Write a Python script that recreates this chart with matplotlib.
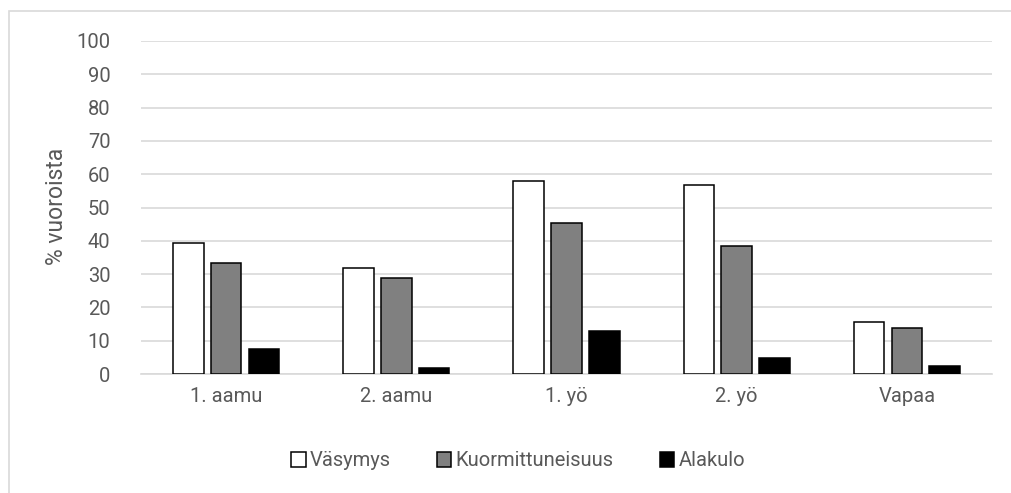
import numpy as np
import matplotlib
matplotlib.use('Agg')
import matplotlib.pyplot as plt
from matplotlib.patches import Rectangle

# 數據
categories = ['1. aamu', '2. aamu', '1. yö', '2. yö', 'Vapaa']
vasymys = [39.2, 31.7, 58.0, 56.9, 15.5]
kuormittuneisuus = [33.2, 28.9, 45.2, 38.4, 13.7]
alakulo = [7.4, 1.7, 13.0, 4.8, 2.4]
series_names = ['Väsymys', 'Kuormittuneisuus', 'Alakulo']
yticks = list(range(0, 101, 10))

plt.rcParams['font.family'] = ['Roboto', 'DejaVu Sans']
text_color = '#595959'

fig = plt.figure(figsize=(10.12, 4.93), dpi=100)
ax = fig.add_axes([141 / 1012, 1 - 374 / 493, 851 / 1012, 333 / 493])

# 外框（只有左邊和上邊可見）
fig.patches.append(Rectangle((8.5 / 1012, -0.1), 1.2, 1.1 - 11.5 / 493,
                             transform=fig.transFigure, fill=False,
                             edgecolor='#d9d9d9', linewidth=1.2, zorder=0))

x = np.arange(len(categories))
pitch = 0.222
width = 0.18
colors = ['white', '#808080', 'black']
for i, (vals, name, c) in enumerate(zip([vasymys, kuormittuneisuus, alakulo], series_names, colors)):
    ax.bar(x + (i - 1) * pitch, vals, width, color=c, edgecolor='black',
           linewidth=1.1, label=name, zorder=3)

ax.set_xlim(-0.5, len(categories) - 0.5)
ax.set_ylim(0, 100)
ax.set_yticks(yticks)
ax.set_xticks(x)
ax.set_xticklabels(categories)
ax.yaxis.grid(True, color='#d9d9d9', linewidth=1.2, zorder=0)
ax.set_axisbelow(True)
for s in ['top', 'right', 'left']:
    ax.spines[s].set_visible(False)
ax.spines['bottom'].set_color('#d9d9d9')
ax.spines['bottom'].set_linewidth(1.2)
ax.tick_params(axis='both', length=0, labelsize=14.5, colors=text_color)
ax.tick_params(axis='y', pad=22)
ax.tick_params(axis='x', pad=9)

fig.text(57 / 1012, 1 - 206 / 493, '% vuoroista', rotation=90, ha='center', va='center',
         fontsize=16.5, color=text_color)

leg = fig.legend(loc='center', bbox_to_anchor=(518 / 1012, 1 - 461 / 493), ncol=3,
                 frameon=False, fontsize=14.5, handlelength=0.72, handleheight=0.72,
                 handletextpad=0.2, columnspacing=2.3)
for t in leg.get_texts():
    t.set_color(text_color)

plt.savefig('out.png', dpi=100)
